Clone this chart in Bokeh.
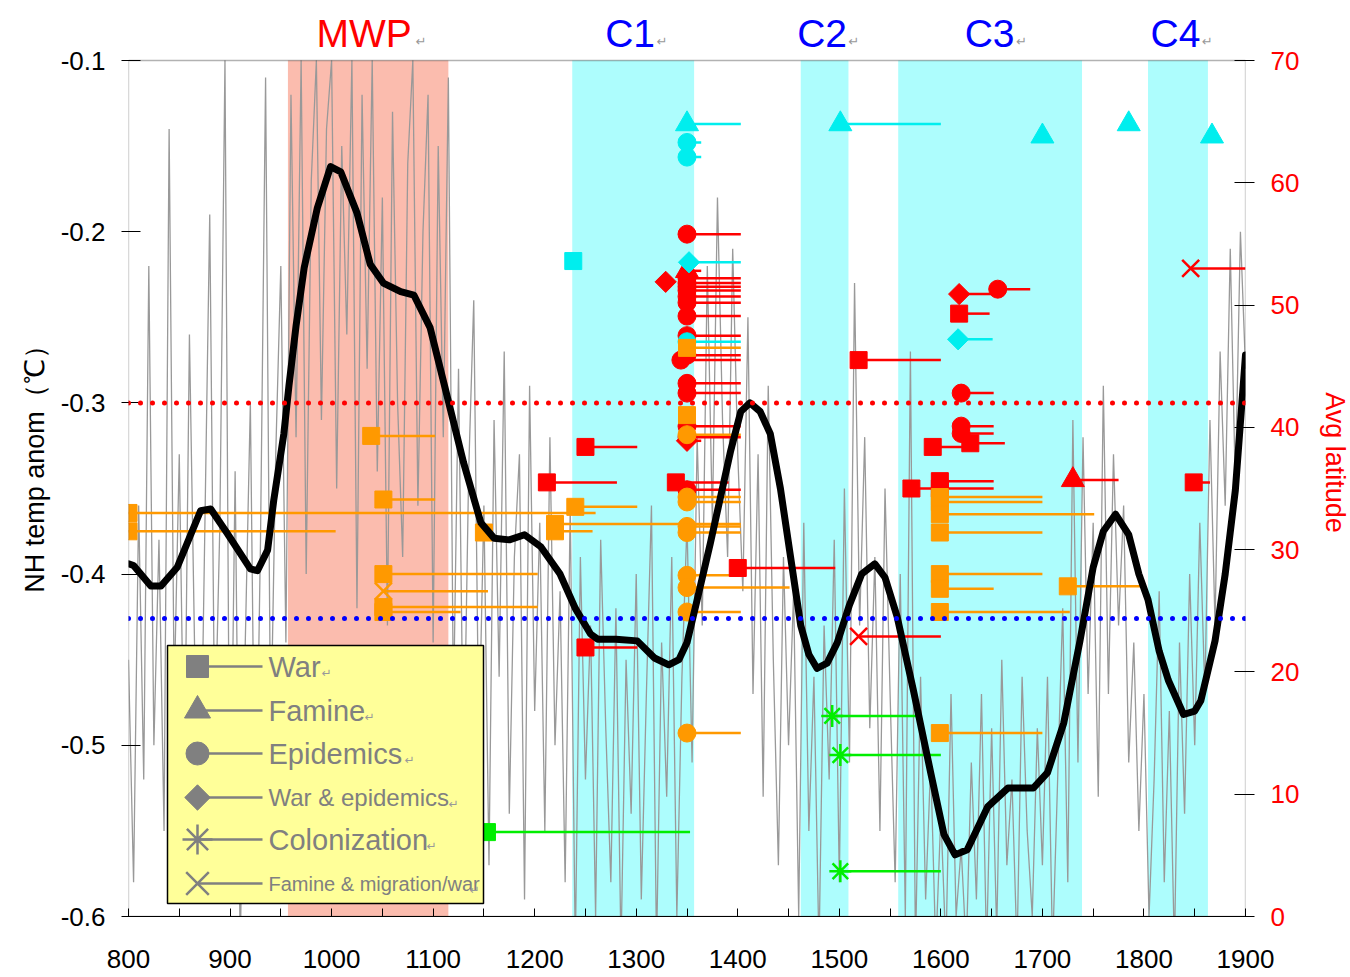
import math
from bokeh.plotting import figure
from bokeh.models import (Range1d, LinearAxis, BoxAnnotation, Span, Label,
                          ColumnDataSource, FixedTicker)
from bokeh.core.properties import value
from bokeh.embed import file_html
from bokeh.resources import INLINE

# ---------------- data ----------------
# period bands (years)
band_names = ["MWP", "C1", "C2", "C3", "C4"]
band_start = [957, 1237, 1462, 1558, 1804]
band_end = [1115, 1357, 1509, 1739, 1863]
band_label_x = [1032, 1294, 1483, 1648, 1831]

# high-frequency NH temperature anomaly (5-year steps, 800-1900)
gray_years = list(range(800, 1901, 5))
gray_vals = [
    -0.45, -0.58, -0.36, -0.52, -0.22, -0.50, -0.38, -0.55, -0.14, -0.47,
    -0.33, -0.53, -0.26, -0.44, -0.57, -0.38, -0.19, -0.50, -0.37, -0.10,
    -0.58, -0.34, -0.62, -0.44, -0.30, -0.57, -0.38, -0.11, -0.50, -0.33,
    -0.22, -0.44, -0.12, -0.32, -0.10, -0.40, -0.17, -0.10, -0.31, -0.14,
    -0.10, -0.35, -0.15, -0.26, -0.10, -0.42, -0.12, -0.28, -0.10, -0.34,
    -0.18, -0.43, -0.13, -0.30, -0.39, -0.16, -0.10, -0.36, -0.20, -0.12,
    -0.44, -0.15, -0.32, -0.11, -0.48, -0.28, -0.52, -0.34, -0.24, -0.50,
    -0.36, -0.57, -0.31, -0.46, -0.27, -0.54, -0.39, -0.33, -0.59, -0.29,
    -0.48, -0.37, -0.55, -0.32, -0.50, -0.41, -0.58, -0.36, -0.62, -0.39,
    -0.52, -0.43, -0.60, -0.38, -0.49, -0.58, -0.42, -0.62, -0.45, -0.54,
    -0.40, -0.59, -0.47, -0.36, -0.62, -0.44, -0.53, -0.39, -0.60, -0.46,
    -0.37, -0.51, -0.32, -0.43, -0.22, -0.37, -0.18, -0.31, -0.39, -0.21,
    -0.33, -0.41, -0.25, -0.47, -0.33, -0.53, -0.29, -0.45, -0.57, -0.39,
    -0.50, -0.41, -0.60, -0.37, -0.55, -0.46, -0.62, -0.43, -0.52, -0.38,
    -0.58, -0.35, -0.51, -0.23, -0.43, -0.32, -0.49, -0.39, -0.55, -0.35,
    -0.47, -0.58, -0.40, -0.60, -0.27, -0.62, -0.46, -0.59, -0.51, -0.62,
    -0.54, -0.62, -0.47, -0.60, -0.56, -0.62, -0.51, -0.59, -0.47, -0.62,
    -0.49, -0.61, -0.45, -0.57, -0.52, -0.62, -0.46, -0.55, -0.60, -0.49,
    -0.57, -0.46, -0.62, -0.52, -0.42, -0.58, -0.31, -0.51, -0.32, -0.47,
    -0.37, -0.53, -0.29, -0.47, -0.33, -0.43, -0.36, -0.51, -0.44, -0.55,
    -0.47, -0.60, -0.52, -0.41, -0.58, -0.48, -0.62, -0.44, -0.54, -0.40,
    -0.50, -0.37, -0.47, -0.31, -0.43, -0.27, -0.36, -0.21, -0.35, -0.20,
    -0.28,
]

# smoothed NH temperature anomaly
smooth_years = [800, 805, 822, 832, 848, 871, 881, 897, 920, 927, 937, 943, 953, 958,
                965, 973, 986, 999, 1009, 1025, 1038, 1051, 1068, 1081, 1097, 1115,
                1130, 1147, 1160, 1175, 1190, 1206, 1225, 1240, 1255, 1262, 1280,
                1301, 1318, 1332, 1342, 1350, 1360, 1373, 1393, 1403, 1412, 1422,
                1432, 1442, 1452, 1462, 1470, 1478, 1488, 1498, 1510, 1522, 1535,
                1545, 1557, 1573, 1590, 1603, 1614, 1626, 1646, 1666, 1691, 1705,
                1721, 1737, 1750, 1760, 1772, 1785, 1795, 1804, 1815, 1824, 1839,
                1850, 1856, 1870, 1880, 1890, 1900]
smooth_vals = [-0.394, -0.395, -0.407, -0.407, -0.396, -0.363, -0.362, -0.376, -0.397,
               -0.398, -0.386, -0.357, -0.318, -0.290, -0.255, -0.221, -0.186, -0.162,
               -0.165, -0.189, -0.219, -0.230, -0.235, -0.237, -0.256, -0.299, -0.335,
               -0.370, -0.379, -0.380, -0.377, -0.384, -0.400, -0.420, -0.435, -0.438,
               -0.438, -0.439, -0.449, -0.453, -0.450, -0.440, -0.415, -0.382, -0.328,
               -0.305, -0.300, -0.305, -0.318, -0.350, -0.390, -0.430, -0.447, -0.455,
               -0.452, -0.440, -0.418, -0.400, -0.394, -0.402, -0.425, -0.468, -0.516,
               -0.552, -0.564, -0.561, -0.536, -0.525, -0.525, -0.516, -0.487, -0.439,
               -0.396, -0.375, -0.365, -0.377, -0.400, -0.415, -0.445, -0.462, -0.482,
               -0.480, -0.474, -0.439, -0.400, -0.351, -0.272]

# reference levels (left axis units)
ref_red = -0.300
ref_blue = -0.426

# events: start year, end year, average latitude, type, region colour
ev_start = [
    # red (40)
    1350, 1350, 1329, 1350, 1350, 1350, 1350, 1350, 1350, 1350, 1350, 1350, 1344,
    1350, 1350, 1350, 1350, 1350, 1339, 1350,
    1212, 1250, 1250, 1400, 1519, 1519, 1618, 1656, 1618, 1620, 1620, 1620, 1629,
    1592, 1571, 1599, 1599, 1730, 1849, 1846,
    # cyan (11)
    1350, 1350, 1350, 1501, 1700, 1785, 1867, 1238, 1352, 1617, 1350,
    # orange (32)
    800, 800, 1039, 1051, 1051, 1051, 1051, 1051, 1150, 1220, 1220, 1240,
    1350, 1350, 1350, 1350, 1350, 1350, 1350, 1350, 1350, 1350, 1350,
    1599, 1599, 1599, 1599, 1599, 1599, 1599, 1599, 1725,
    # green (4)
    1153, 1493, 1501, 1501,
]
ev_end = [
    1403, 1364, 1329, 1403, 1403, 1403, 1403, 1403, 1403, 1403, 1403, 1403, 1403,
    1403, 1403, 1403, 1403, 1364, 1391, 1403,
    1281, 1301, 1301, 1496, 1600, 1600, 1656, 1688, 1648, 1652, 1652, 1652, 1663,
    1629, 1599, 1652, 1652, 1775, 1865, 1900,
    1403, 1364, 1364, 1600, 1700, 1785, 1867, 1238, 1403, 1651, 1403,
    1260, 1004, 1102, 1102, 1203, 1154, 1127, 1203, 1150, 1403, 1257, 1301,
    1403, 1350, 1403, 1403, 1403, 1403, 1403, 1403, 1451, 1403, 1403,
    1700, 1700, 1751, 1700, 1700, 1652, 1727, 1700, 1801,
    1353, 1578, 1600, 1600,
]
ev_lat = [
    55.8, 52.8, 51.9, 52.2, 51.8, 51.5, 51.2, 50.7, 50.2, 49.1, 47.5, 45.9, 45.5,
    43.6, 42.8, 40.1, 39.2, 38.9, 35.5, 34.9,
    35.5, 38.4, 22.0, 28.5, 45.5, 22.9, 50.9, 51.3, 49.3, 42.8, 40.1, 39.5, 38.7,
    38.4, 35.0, 35.6, 35.0, 35.7, 35.5, 53.0,
    64.8, 63.3, 62.1, 64.8, 63.8, 64.8, 63.8, 53.6, 53.5, 47.2, 47.0,
    33.0, 31.5, 39.3, 34.1, 28.0, 26.6, 24.9, 25.3, 31.4, 32.1, 31.5, 33.5,
    46.5, 41.0, 39.4, 34.3, 33.9, 31.9, 31.4, 27.9, 26.9, 24.9, 15.0,
    34.3, 33.9, 32.9, 31.4, 28.0, 26.8, 24.9, 15.0, 27.0,
    6.9, 16.4, 13.2, 3.7,
]
ev_type = [
    "epidemic", "famine", "war_epi", "epidemic", "epidemic", "epidemic", "epidemic",
    "epidemic", "epidemic", "epidemic", "epidemic", "epidemic", "epidemic",
    "epidemic", "epidemic", "epidemic", "epidemic", "war_epi", "war", "epidemic",
    "war", "war", "war", "war", "war", "fam_mig", "war_epi", "epidemic", "war",
    "epidemic", "epidemic", "epidemic", "war", "war", "war", "war", "war", "famine",
    "war", "fam_mig",
    "famine", "epidemic", "epidemic", "famine", "famine", "famine", "famine", "war",
    "war_epi", "war_epi", "epidemic",
    "war", "war", "war", "war", "war", "fam_mig", "war", "war", "war", "war", "war",
    "war",
    "war", "war", "epidemic", "epidemic", "epidemic", "epidemic", "epidemic",
    "epidemic", "epidemic", "epidemic", "epidemic",
    "war", "war", "war", "war", "war", "war", "war", "war", "war",
    "war", "colonization", "colonization", "colonization",
]
ev_region = ["red"] * 40 + ["cyan"] * 11 + ["orange"] * 32 + ["green"] * 4

# legend
legend_labels = ["War", "Famine", "Epidemics", "War & epidemics", "Colonization",
                 "Famine & migration/war"]
legend_types = ["war", "famine", "epidemic", "war_epi", "colonization", "fam_mig"]

# ---------------- styling ----------------
region_color = {"red": "#FF0000", "cyan": "#00EEEE", "orange": "#FF9900",
                "green": "#00EE00"}
type_marker = {"war": "square", "famine": "triangle", "epidemic": "circle",
               "war_epi": "square", "colonization": "asterisk", "fam_mig": "x"}
type_size = {"war": 17, "famine": 23, "epidemic": 18, "war_epi": 15,
             "colonization": 22, "fam_mig": 24}
type_angle = {"war_epi": math.pi / 4}
type_lw = {"colonization": 2.5, "fam_mig": 2.5}
legend_size = {"war": 22, "famine": 26, "epidemic": 23, "war_epi": 18,
               "colonization": 30, "fam_mig": 32}

FONT = "Liberation Sans"
FW, FH = 1117, 856          # plotting box (800-1900 x -0.6..-0.1)
TOP_PAD = 52                # extra room above the box for the period names
XL, XR, YB, YT = 800, 1900, -0.6, -0.1
Y_EXT = YT + TOP_PAD / FH * (YT - YB)


def px2x(px):
    return XL + (px - 128) / FW * (XR - XL)


def px2y(py):
    return YT - (py - 60) / FH * (YT - YB)


p = figure(frame_width=FW, frame_height=FH + TOP_PAD,
           x_range=Range1d(XL, XR), y_range=Range1d(YB, Y_EXT),
           output_backend="svg", toolbar_location=None,
           min_border_left=128, min_border_right=105,
           min_border_top=8, min_border_bottom=57)
p.extra_y_ranges = {"lat": Range1d(0, 70 * (Y_EXT - YB) / (YT - YB))}
p.grid.visible = False
p.outline_line_color = None
p.background_fill_color = "white"
p.border_fill_color = "white"

# axes
xa = p.xaxis[0]
xa.ticker = FixedTicker(ticks=list(range(800, 1901, 100)),
                        minor_ticks=list(range(850, 1900, 100)))
xa.major_tick_in = 8
xa.major_tick_out = 0
xa.minor_tick_in = 8
xa.minor_tick_out = 0
xa.major_label_standoff = 33
xa.major_label_text_font = FONT
xa.major_label_text_font_size = "26px"
xa.major_label_text_color = "black"
xa.axis_line_color = "black"
xa.major_tick_line_color = "black"
xa.minor_tick_line_color = "black"

left_ticks = [-0.6, -0.5, -0.4, -0.3, -0.2, -0.1]
ya = p.yaxis[0]
ya.ticker = FixedTicker(ticks=left_ticks)
ya.major_label_overrides = {t: "%.1f" % t for t in left_ticks}
ya.axis_line_color = None
ya.major_tick_line_color = "black"
ya.major_tick_in = 12
ya.major_tick_out = 7
ya.minor_tick_line_color = None
ya.major_label_standoff = 16
ya.major_label_text_font = FONT
ya.major_label_text_font_size = "26px"
ya.major_label_text_color = "black"
ya.axis_label = "NH temp anom（℃）"
ya.axis_label_text_font = FONT
ya.axis_label_text_font_size = "27px"
ya.axis_label_text_font_style = "normal"
ya.axis_label_text_color = "black"
ya.axis_label_standoff = 8

ra = LinearAxis(y_range_name="lat", ticker=FixedTicker(ticks=list(range(0, 71, 10))))
ra.axis_line_color = None
ra.major_tick_line_color = "black"
ra.major_tick_in = 11
ra.major_tick_out = 9
ra.minor_tick_line_color = None
ra.major_label_standoff = 16
ra.major_label_text_font = FONT
ra.major_label_text_font_size = "26px"
ra.major_label_text_color = "#FF0000"
ra.axis_label = "Avg latitude"
ra.axis_label_text_font = FONT
ra.axis_label_text_font_size = "27px"
ra.axis_label_text_font_style = "normal"
ra.axis_label_text_color = "#FF0000"
ra.axis_label_standoff = 18
p.add_layout(ra, "right")

# period bands
for name, s, e in zip(band_names, band_start, band_end):
    col = "#FBBCAE" if name == "MWP" else "#ADFDFD"
    p.add_layout(BoxAnnotation(left=s, right=e, bottom=YB, top=YT,
                               fill_color=col, fill_alpha=1.0, line_color=None,
                               level="underlay"))

# period names above the box
for name, x in zip(band_names, band_label_x):
    col = "#FF0000" if name == "MWP" else "#0000FF"
    p.add_layout(Label(x=x, y=px2y(33), text=name, text_font=FONT,
                       text_font_size="39px", text_color=col,
                       text_align="center", text_baseline="middle"))
    off = 57 if name == "MWP" else 32
    p.add_layout(Label(x=x, y=px2y(41), x_offset=off, text="↵",
                       text_font="DejaVu Sans", text_font_size="13px",
                       text_color="#999999", text_align="center",
                       text_baseline="middle"))

# gray annual series
p.line(gray_years, gray_vals, line_color="#999999", line_width=1.3)

# events
src = ColumnDataSource(dict(
    x0=ev_start, x1=ev_end, lat=ev_lat,
    color=[region_color[r] for r in ev_region],
    marker=[type_marker[t] for t in ev_type],
    size=[type_size[t] for t in ev_type],
    angle=[type_angle.get(t, 0.0) for t in ev_type],
    lw=[type_lw.get(t, 1.0) for t in ev_type],
))
p.segment(x0="x0", y0="lat", x1="x1", y1="lat", source=src, y_range_name="lat",
          line_color="color", line_width=2.5)
p.scatter(x="x0", y="lat", source=src, y_range_name="lat", marker="marker",
          size="size", angle="angle", fill_color="color", line_color="color",
          line_width="lw")

# smoothed curve
p.line(smooth_years, smooth_vals, line_color="black", line_width=7,
       line_join="round", line_cap="round")

# reference dotted lines
p.add_layout(Span(location=ref_red, dimension="width", line_color="#FF0000",
                  line_width=5, line_dash="0 12", line_cap="round"))
p.add_layout(Span(location=ref_blue, dimension="width", line_color="#0000FF",
                  line_width=5, line_dash="0 12", line_cap="round"))

# plot box outline
p.add_layout(BoxAnnotation(left=XL, right=XR, bottom=YB, top=YT, fill_alpha=0.0,
                           line_color="black", line_width=1.3))

# legend box
p.quad(left=[px2x(167)], right=[px2x(483)], top=[px2y(645)], bottom=[px2y(903)],
       fill_color="#FFFF99", line_color="black", line_width=1.5)
row_py = [666, 710, 753, 797, 839, 883]
leg_y = [px2y(v) for v in row_py]
leg_src = ColumnDataSource(dict(
    x=[px2x(197)] * 6, x1=[px2x(262)] * 6, y=leg_y, tx=[px2x(268)] * 6,
    label=legend_labels,
    marker=[type_marker[t] for t in legend_types],
    size=[legend_size[t] for t in legend_types],
    angle=[type_angle.get(t, 0.0) for t in legend_types],
    lw=[type_lw.get(t, 1.0) for t in legend_types],
    fs=["29px", "29px", "29px", "24px", "29px", "20px"],
    rm=[58, 101, 141, 185, 163, 206],
    ry=[px2y(v + 6) for v in row_py],
))
p.segment(x0="x", y0="y", x1="x1", y1="y", source=leg_src, line_color="#808080",
          line_width=2.5)
p.scatter(x="x", y="y", source=leg_src, marker="marker", size="size", angle="angle",
          fill_color="#808080", line_color="#808080", line_width="lw")
p.text(x="tx", y="y", text="label", source=leg_src, text_font=value(FONT),
       text_font_size="fs", text_color="#808080", text_align="left",
       text_baseline="middle")
p.text(x="tx", y="ry", x_offset="rm", text=value("↵"), source=leg_src,
       text_font=value("DejaVu Sans"), text_font_size="12px",
       text_color="#999999", text_align="center", text_baseline="middle")

open("out.html", "w").write(file_html(p, INLINE))
